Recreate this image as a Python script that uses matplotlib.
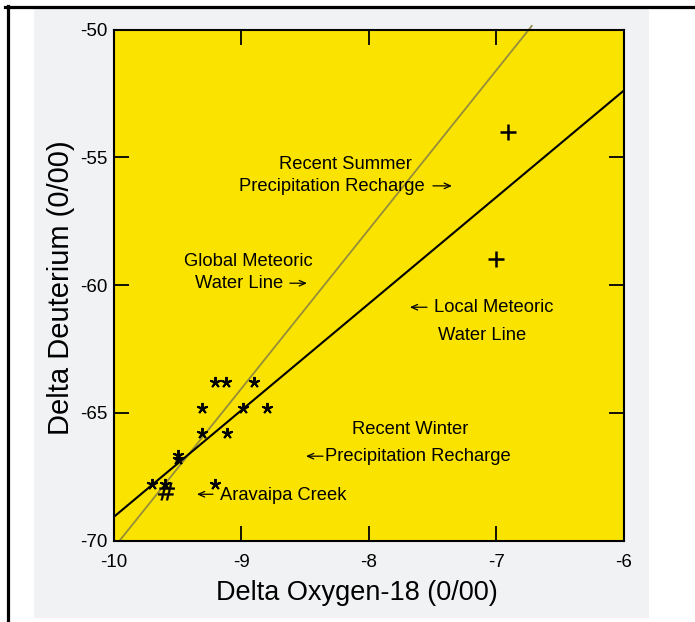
import matplotlib
matplotlib.use("Agg")
import matplotlib.pyplot as plt
from matplotlib.patches import Rectangle
from matplotlib.lines import Line2D

plt.rcParams['font.family'] = ['Liberation Sans', 'DejaVu Sans']
plt.rcParams['axes.unicode_minus'] = False

# ---------------- data ----------------
star_o18 = [-9.21, -9.12, -8.90, -9.31, -8.99, -8.80, -9.31, -9.11, -9.50, -9.50, -9.70, -9.60, -9.21]
star_dd  = [-63.8, -63.8, -63.8, -64.8, -64.8, -64.8, -65.8, -65.8, -66.65, -66.8, -67.8, -67.8, -67.8]
plus_o18 = [-6.91, -7.00]
plus_dd  = [-54.0, -59.0]
creek_o18 = [-9.59]
creek_dd  = [-68.05]
gmwl_x = [-9.955, -6.72]
gmwl_y = [-70.0, -49.86]
lmwl_x = [-10.0, -6.0]
lmwl_y = [-69.07, -52.40]
xticks = [-10, -9, -8, -7, -6]
xtick_labels = ['-10', '-9', '-8', '-7', '-6']
yticks = [-70, -65, -60, -55, -50]
ytick_labels = ['-70', '-65', '-60', '-55', '-50']

W, H = 695, 622
fig = plt.figure(figsize=(W / 100, H / 100), dpi=100)
fig.patch.set_facecolor('white')

# paper background and scan border
fig.add_artist(Rectangle((34 / W, 1 - 618 / H), 615 / W, 610 / H, transform=fig.transFigure,
                         facecolor='#f1f2f3', edgecolor='none', zorder=0))
fig.add_artist(Line2D([5 / W, 1], [1 - 6.5 / H, 1 - 6.5 / H], transform=fig.transFigure,
                      color='black', lw=2.3))
fig.add_artist(Line2D([7.5 / W, 7.5 / W], [0, 1 - 5.5 / H], transform=fig.transFigure,
                      color='black', lw=2.3))

ax = fig.add_axes([114 / W, 1 - 540.5 / H, 509.5 / W, 511 / H])
ax.set_facecolor('#fbe300')
ax.set_xlim(-10, -6)
ax.set_ylim(-70, -50)

ax.plot(lmwl_x, lmwl_y, color='black', lw=1.5, zorder=3)
ax.plot(gmwl_x, gmwl_y, color='#8a8440', lw=1.3, alpha=0.9, zorder=2, clip_on=False)

ax.plot(star_o18, star_dd, linestyle='none', marker=(5, 2, 0), markersize=8,
        markeredgewidth=1.4, color='black', zorder=4)
ax.plot(plus_o18, plus_dd, linestyle='none', marker='+', markersize=11,
        markeredgewidth=1.8, color='black', zorder=4)
ax.plot(creek_o18, creek_dd, linestyle='none', marker=r'$\#$', markersize=12.5,
        markeredgewidth=0.3, color='black', zorder=4)

for s in ax.spines.values():
    s.set_linewidth(1.5)
    s.set_color('black')

ax.set_xticks(xticks)
ax.set_xticklabels(xtick_labels)
ax.set_yticks(yticks)
ax.set_yticklabels(ytick_labels)
ax.tick_params(direction='in', length=11, width=1.3, top=True, right=True,
               labelsize=13.5, colors='black')
ax.tick_params(axis='x', pad=10)
ax.tick_params(axis='y', pad=5)

fs = 13.2
txt = dict(fontsize=fs, color='black', zorder=5, va='center')
ax.text(-8.185, -55.30, 'Recent Summer', ha='center', **txt)
ax.text(-9.019, -56.15, 'Precipitation Recharge', ha='left', **txt)
ax.text(-8.944, -59.09, 'Global Meteoric', ha='center', **txt)
ax.text(-9.364, -59.96, 'Water Line', ha='left', **txt)
ax.text(-7.488, -60.90, 'Local Meteoric', ha='left', **txt)
ax.text(-7.108, -61.99, 'Water Line', ha='center', **txt)
ax.text(-7.673, -65.67, 'Recent Winter', ha='center', **txt)
ax.text(-8.344, -66.73, 'Precipitation Recharge', ha='left', **txt)
ax.text(-9.168, -68.22, 'Aravaipa Creek', ha='left', **txt)

# thin text arrows (tail x, head x, y)
arrows = [(-7.496, -7.347, -56.12), (-8.619, -8.485, -59.93), (-7.543, -7.677, -60.87),
          (-8.359, -8.493, -66.70), (-9.223, -9.349, -68.19)]
for x0, x1, y in arrows:
    ax.annotate('', xy=(x1, y), xytext=(x0, y), zorder=5,
                arrowprops=dict(arrowstyle='->,head_length=0.45,head_width=0.2',
                                lw=0.9, color='black', shrinkA=0, shrinkB=0))

fig.text(356.5 / W, 1 - 593.5 / H, 'Delta Oxygen-18 (0/00)', ha='center', va='center',
         fontsize=19.5, color='black')
fig.text(61 / W, 1 - 288 / H, 'Delta Deuterium (0/00)', ha='center', va='center',
         rotation=90, fontsize=21, color='black')

fig.savefig('out.png', dpi=100, facecolor=fig.get_facecolor())
